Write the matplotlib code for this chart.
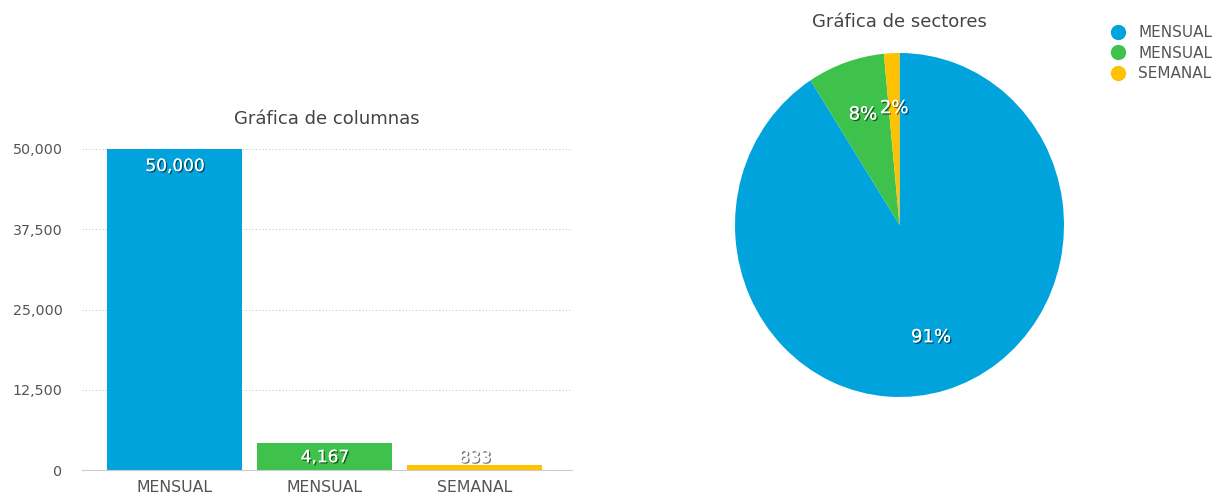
import matplotlib
matplotlib.use("Agg")
import matplotlib.pyplot as plt
import matplotlib.patheffects as pe
from matplotlib.lines import Line2D
from matplotlib.ticker import FuncFormatter

plt.rcParams["font.family"] = ["DejaVu Sans"]

# data
categorias = ["MENSUAL", "MENSUAL", "SEMANAL"]
valores = [50000, 4167, 833]
colores = ["#00a3dc", "#3ec24b", "#ffc200"]
yticks = [0, 12500, 25000, 37500, 50000]

txt_gris = "#555555"
sombra = [pe.withSimplePatchShadow(offset=(1, -1), shadow_rgbFace="black", alpha=0.55), pe.Normal()]

fig = plt.figure(figsize=(12.14, 4.96), dpi=100)

# --- columnas ---
ax = fig.add_axes([82 / 1214, 26 / 496, 490 / 1214, 321 / 496])
x = list(range(len(valores)))
ax.bar(x, valores, width=0.9, color=colores)
ax.set_xlim(-0.62, 2.65)
ax.set_ylim(0, 50000)
ax.set_yticks(yticks)
ax.yaxis.set_major_formatter(FuncFormatter(lambda v, p: f"{int(v):,}"))
ax.set_xticks(x)
ax.set_xticklabels(categorias)
ax.tick_params(axis="both", length=0, colors=txt_gris)
ax.tick_params(axis="y", labelsize=10.3, pad=14)
ax.tick_params(axis="x", labelsize=11.3, pad=7)
ax.grid(axis="y", color="#c8c8c8", linestyle=(0, (1, 2)), linewidth=0.8)
ax.set_axisbelow(True)
for s in ["top", "right", "left"]:
    ax.spines[s].set_visible(False)
ax.spines["bottom"].set_color("#cccccc")
ax.set_title("Gráfica de columnas", fontsize=13, color="#444444", pad=18)

# etiquetas de valor dentro de la columna
for xi, v in zip(x, valores):
    y = max(v - 2650, 2000)
    ax.text(xi, y, f"{v:,}", ha="center", va="center", fontsize=12.2,
            color="white", path_effects=sombra)

# --- sectores ---
ax2 = fig.add_axes([735 / 1214, 99 / 496, 329 / 1214, 344 / 496])
wedges, _, autotexts = ax2.pie(valores, colors=colores, startangle=90, counterclock=False,
                               autopct=lambda p: f"{p:.0f}%", pctdistance=0.68,
                               wedgeprops=dict(linewidth=0))
for t in autotexts:
    t.set_color("white")
    t.set_fontsize(13)
    t.set_path_effects(sombra)
ax2.set_aspect("auto")
ax2.set_xlim(-1, 1)
ax2.set_ylim(-1, 1)
ax2.set_title("Gráfica de sectores", fontsize=13, color="#444444", pad=19)

handles = [Line2D([], [], marker="o", linestyle="none", markersize=10,
                  markerfacecolor=c, markeredgecolor=c) for c in colores]
fig.legend(handles, categorias, loc="upper right", bbox_to_anchor=(1.0, 0.952),
           frameon=False, fontsize=11, labelcolor=txt_gris, handletextpad=0.35,
           labelspacing=0.36, borderaxespad=0.0, borderpad=0.1)

fig.savefig("out.png", dpi=100)
